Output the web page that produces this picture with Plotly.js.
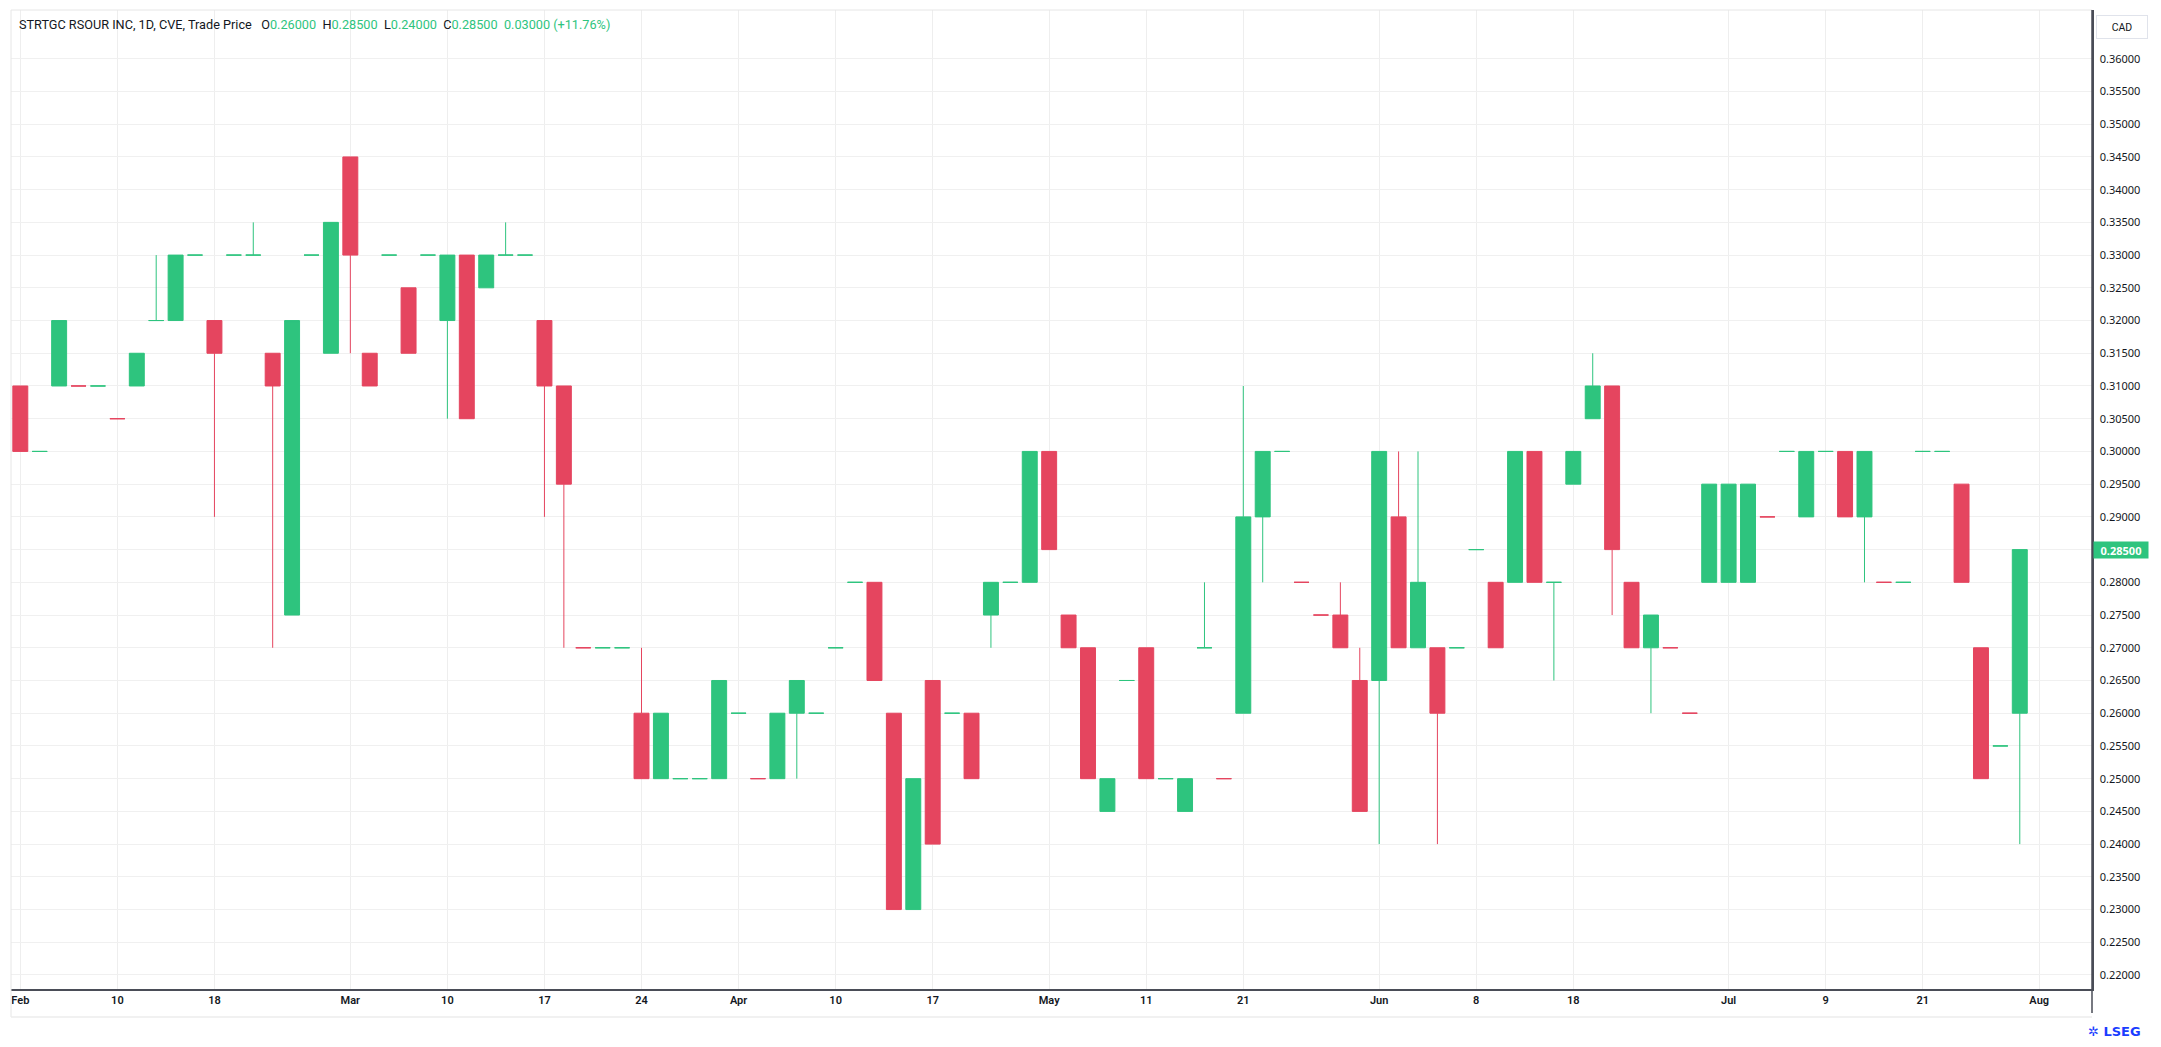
<!DOCTYPE html>
<html>
<head>
<meta charset="utf-8">
<script src="https://cdn.plot.ly/plotly-3.0.1.min.js"></script>
<style>
  html, body { margin: 0; padding: 0; background: #ffffff; }
  #chart { width: 2161px; height: 1047px; }
</style>
</head>
<body>
<div id="chart"></div>
<script>
// ---- data (one candle per trading session) ----
const openP  = [0.31,0.30,0.31,0.31,0.31,0.305,0.31,0.32,0.32,0.33,
                0.32,0.33,0.33,0.315,0.275,0.33,0.315,0.345,0.315,0.33,
                0.325,0.33,0.32,0.33,0.325,0.33,0.33,0.32,0.31,0.27,
                0.27,0.27,0.26,0.25,0.25,0.25,0.25,0.26,0.25,0.25,
                0.26,0.26,0.27,0.28,0.28,0.26,0.23,0.265,0.26,0.26,
                0.275,0.28,0.28,0.30,0.275,0.27,0.245,0.265,0.27,0.25,
                0.245,0.27,0.25,0.26,0.29,0.30,0.28,0.275,0.275,0.265,
                0.265,0.29,0.27,0.27,0.27,0.285,0.28,0.28,0.30,0.28,
                0.295,0.305,0.31,0.28,0.27,0.27,0.26,0.28,0.28,0.28,
                0.29,0.30,0.29,0.30,0.30,0.29,0.28,0.28,0.30,0.30,
                0.295,0.27,0.255,0.26];
const highP  = [0.31,0.30,0.32,0.31,0.31,0.305,0.315,0.33,0.33,0.33,
                0.32,0.33,0.335,0.315,0.32,0.33,0.335,0.345,0.315,0.33,
                0.325,0.33,0.33,0.33,0.33,0.335,0.33,0.32,0.31,0.27,
                0.27,0.27,0.27,0.26,0.25,0.25,0.265,0.26,0.25,0.26,
                0.265,0.26,0.27,0.28,0.28,0.26,0.25,0.265,0.26,0.26,
                0.28,0.28,0.30,0.30,0.275,0.27,0.25,0.265,0.27,0.25,
                0.25,0.28,0.25,0.31,0.30,0.30,0.28,0.275,0.28,0.27,
                0.30,0.30,0.30,0.27,0.27,0.285,0.28,0.30,0.30,0.28,
                0.30,0.315,0.31,0.28,0.275,0.27,0.26,0.295,0.295,0.295,
                0.29,0.30,0.30,0.30,0.30,0.30,0.28,0.28,0.30,0.30,
                0.295,0.27,0.255,0.285];
const lowP   = [0.30,0.30,0.31,0.31,0.31,0.305,0.31,0.32,0.32,0.33,
                0.29,0.33,0.33,0.27,0.275,0.33,0.315,0.315,0.31,0.33,
                0.315,0.33,0.305,0.305,0.325,0.33,0.33,0.29,0.27,0.27,
                0.27,0.27,0.25,0.25,0.25,0.25,0.25,0.26,0.25,0.25,
                0.25,0.26,0.27,0.28,0.265,0.23,0.23,0.24,0.26,0.25,
                0.27,0.28,0.28,0.285,0.27,0.25,0.245,0.265,0.25,0.25,
                0.245,0.27,0.25,0.26,0.28,0.30,0.28,0.275,0.27,0.245,
                0.24,0.27,0.27,0.24,0.27,0.285,0.27,0.28,0.28,0.265,
                0.295,0.305,0.275,0.27,0.26,0.27,0.26,0.28,0.28,0.28,
                0.29,0.30,0.29,0.30,0.29,0.28,0.28,0.28,0.30,0.30,
                0.28,0.25,0.255,0.24];
const closeP = [0.30,0.30,0.32,0.31,0.31,0.305,0.315,0.32,0.33,0.33,
                0.315,0.33,0.33,0.31,0.32,0.33,0.335,0.33,0.31,0.33,
                0.315,0.33,0.33,0.305,0.33,0.33,0.33,0.31,0.295,0.27,
                0.27,0.27,0.25,0.26,0.25,0.25,0.265,0.26,0.25,0.26,
                0.265,0.26,0.27,0.28,0.265,0.23,0.25,0.24,0.26,0.25,
                0.28,0.28,0.30,0.285,0.27,0.25,0.25,0.265,0.25,0.25,
                0.25,0.27,0.25,0.29,0.30,0.30,0.28,0.275,0.27,0.245,
                0.30,0.27,0.28,0.26,0.27,0.285,0.27,0.30,0.28,0.28,
                0.30,0.31,0.285,0.27,0.275,0.27,0.26,0.295,0.295,0.295,
                0.29,0.30,0.30,0.30,0.29,0.30,0.28,0.28,0.30,0.30,
                0.28,0.25,0.255,0.285];
// candle direction as coloured in the reference (U = up/green, D = down/red)
const direction = ['D','U','U','D','U','D','U','U','U','U',
                   'D','U','U','D','U','U','U','D','D','U',
                   'D','U','U','D','U','U','U','D','D','D',
                   'U','U','D','U','U','U','U','U','D','U',
                   'U','U','U','U','D','D','U','D','U','D',
                   'U','U','U','D','D','D','U','U','D','U',
                   'U','U','D','U','U','U','D','D','D','D',
                   'U','D','U','D','U','U','D','U','D','U',
                   'U','U','D','D','U','D','D','U','U','U',
                   'D','U','U','U','D','U','D','U','U','U',
                   'D','D','U','U'];
// x-axis labels and the session (candle number) where each appears
const tickLabels  = ['Feb','10','18','Mar','10','17','24','Apr','10','17','May','11','21','Jun','8','18','Jul','9','21','Aug'];
const tickSession = [0,5,10,17,22,27,32,37,42,47,53,58,63,70,75,80,88,93,98,104];
// price axis labels
const priceTicks = [0.22,0.225,0.23,0.235,0.24,0.245,0.25,0.255,0.26,0.265,0.27,0.275,0.28,0.285,
                    0.29,0.295,0.30,0.305,0.31,0.315,0.32,0.325,0.33,0.335,0.34,0.345,0.35,0.355,0.36];
const symbolName = 'STRTGC RSOUR INC';
const interval = '1D';
const exchange = 'CVE';
const priceType = 'Trade Price';
const currency = 'CAD';

// ---- styling ----
const GREEN = '#2ec47e';
const RED = '#e5455f';
const TEXT = '#131722';

function buildTrace(dirKey, color) {
  const xs = [], o = [], h = [], l = [], c = [];
  for (let i = 0; i < closeP.length; i++) {
    if (direction[i] !== dirKey) continue;
    xs.push(i); o.push(openP[i]); h.push(highP[i]); l.push(lowP[i]); c.push(closeP[i]);
  }
  return {
    type: 'candlestick', x: xs, open: o, high: h, low: l, close: c,
    increasing: { line: { color: color, width: 1 }, fillcolor: color },
    decreasing: { line: { color: color, width: 1 }, fillcolor: color },
    whiskerwidth: 0, showlegend: false, hoverinfo: 'skip'
  };
}

const traces = [buildTrace('U', GREEN), buildTrace('D', RED)];

const n = closeP.length;
const last = n - 1;
const f5 = v => v.toFixed(5);
const chg = closeP[last] - closeP[last - 1];
const pct = chg / closeP[last - 1] * 100;
const chgColor = chg >= 0 ? GREEN : RED;
const sp = '&nbsp;&nbsp;';
const val = v => '<span style="color:' + chgColor + '">' + v + '</span>';
const header = symbolName + ', ' + interval + ', ' + exchange + ', ' + priceType + sp + '&nbsp;' +
  'O' + val(f5(openP[last])) + sp + 'H' + val(f5(highP[last])) + sp +
  'L' + val(f5(lowP[last])) + sp + 'C' + val(f5(closeP[last])) + sp +
  val(f5(Math.abs(chg)) + ' (' + (pct >= 0 ? '+' : '') + pct.toFixed(2) + '%)');

const layout = {
  width: 2161, height: 1047,
  margin: { l: 11, r: 69, t: 10, b: 58 },
  paper_bgcolor: '#ffffff', plot_bgcolor: '#ffffff',
  font: { family: 'Roboto, "Noto Sans", sans-serif', color: TEXT, size: 11 },
  showlegend: false,
  boxgap: 0.23, boxgroupgap: 0,
  xaxis: {
    type: 'linear', range: [-0.48, 106.72], fixedrange: true,
    rangeslider: { visible: false },
    tickmode: 'array', tickvals: tickSession, ticktext: tickLabels,
    showgrid: true, gridcolor: '#eeeeee', gridwidth: 1, zeroline: false,
    showline: true, linecolor: '#4a4d57', linewidth: 1.5,
    ticks: '', tickfont: { size: 11, color: TEXT, weight: 600 }
  },
  yaxis: {
    side: 'right', range: [0.21786, 0.36745], fixedrange: true,
    tickmode: 'array', tickvals: priceTicks, tickformat: '.5f',
    showgrid: true, gridcolor: '#f0f0f0', gridwidth: 1, zeroline: false,
    showline: true, linecolor: '#4a4d57', linewidth: 1.5,
    ticks: '', ticklabelstandoff: 4,
    tickfont: { size: 11, color: TEXT, family: '"Noto Sans", Roboto, sans-serif' }
  },
  shapes: [
    { type: 'line', xref: 'paper', yref: 'paper', x0: 0, x1: 0, y0: -0.0286, y1: 1, line: { color: '#e6e6e6', width: 1 } },
    { type: 'line', xref: 'paper', yref: 'paper', x0: 0, x1: 1, y0: 1, y1: 1, line: { color: '#e6e6e6', width: 1 } },
    { type: 'line', xref: 'paper', yref: 'paper', x0: 0, x1: 1, y0: -0.0286, y1: -0.0286, line: { color: '#ececec', width: 1.5 } },
    { type: 'line', xref: 'paper', yref: 'paper', x0: 1, x1: 1, y0: -0.0245, y1: 1, line: { color: '#4a4d57', width: 1.5 } }
  ],
  annotations: [
    { xref: 'paper', yref: 'paper', x: 0, y: 0.9847, xanchor: 'left', yanchor: 'middle', xshift: 6,
      showarrow: false, text: header, font: { size: 12.7, color: TEXT, family: 'Roboto, sans-serif' } },
    { xref: 'paper', yref: 'paper', x: 1, y: 0.9826, xanchor: 'left', yanchor: 'middle', xshift: 4,
      showarrow: false, text: currency, width: 46, height: 18, align: 'center',
      bordercolor: '#e0e3eb', borderwidth: 1, borderpad: 2, font: { size: 10.5, color: TEXT } },
    { xref: 'paper', yref: 'y', x: 1, y: closeP[last], xanchor: 'left', yanchor: 'middle', xshift: 1,
      showarrow: false, text: '<b>' + f5(closeP[last]) + '</b>', width: 52, height: 14, align: 'center',
      bgcolor: chgColor, font: { size: 11, color: '#ffffff', family: '"Noto Sans", Roboto, sans-serif' } },
    { xref: 'paper', yref: 'paper', x: 1, y: -0.043, xanchor: 'left', yanchor: 'middle', xshift: -6,
      showarrow: false, text: '<b>✲ LSEG</b>', font: { size: 13, color: '#1a3dff', family: '"DejaVu Sans", sans-serif' } }
  ]
};

Plotly.newPlot('chart', traces, layout, { staticPlot: true, displayModeBar: false });
</script>
</body>
</html>
